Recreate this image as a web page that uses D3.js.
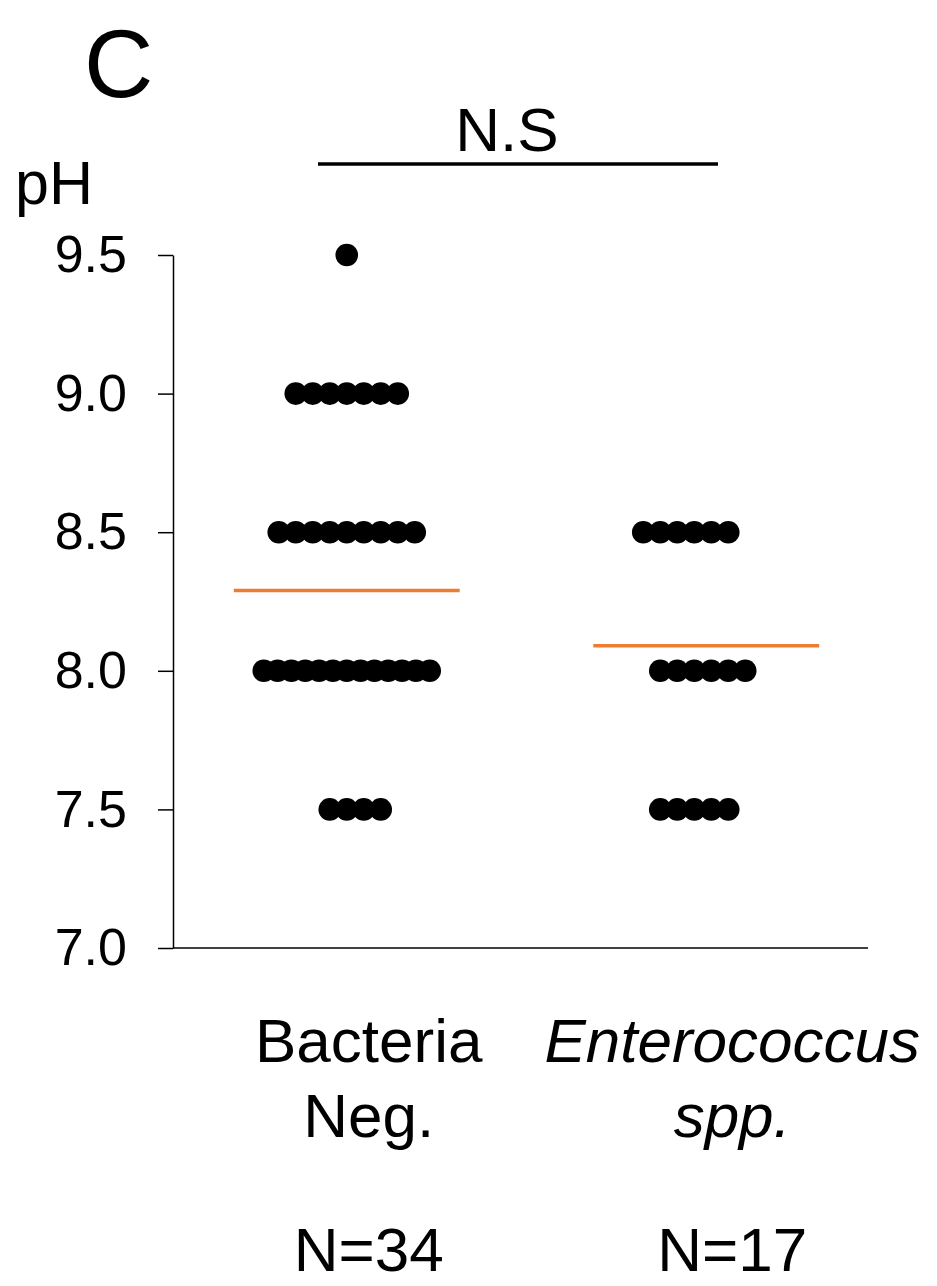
<!DOCTYPE html>
<html>
<head>
<meta charset="utf-8">
<script src="https://cdn.jsdelivr.net/npm/d3@7"></script>
<style>
  body { margin: 0; background: #fff; }
  text { font-family: "Liberation Sans", Arial, sans-serif; fill: #000; }
</style>
</head>
<body>
<svg></svg>
<script>
// data
var categories = ["Bacteria Neg.", "Enterococcus spp."];
var labelLine1 = ["Bacteria", "Enterococcus"];
var labelLine2 = ["Neg.", "spp."];
var nLabels = ["N=34", "N=17"];
var phLevels = [9.5, 9.0, 8.5, 8.0, 7.5];
var bacteriaCounts = [1, 7, 9, 13, 4];
var enteroCounts = [0, 0, 6, 6, 5];
// slot of the first dot in each row (rows are not all centred the same way)
var bacteriaFirstSlot = [0, -3, -4, -6, -1];
var enteroFirstSlot = [0, 0, -3, -2, -2];
var means = [8.29, 8.09];
var yTicks = [7.0, 7.5, 8.0, 8.5, 9.0, 9.5];
var sigLabel = "N.S";

var svgWidth = 937;
var svgHeight = 1286;

var plotLeft = 173;
var plotRight = 868;
var plotTop = 255;
var plotBottom = 948;

var dotRadius = 11.3;
var dotStep = 17;
var rowMaxSpan = 166;

var svg = d3.select("svg")
    .attr("width", svgWidth)
    .attr("height", svgHeight);

var x = d3.scaleBand()
    .domain(categories)
    .range([plotLeft, plotRight]);

var y = d3.scaleLinear()
    .domain([7.0, 9.5])
    .range([plotBottom, plotTop]);

// y axis
var yAxis = svg.append("g")
    .attr("transform", "translate(" + plotLeft + ",0)")
    .call(d3.axisLeft(y)
        .tickValues(yTicks)
        .tickFormat(d3.format(".1f"))
        .tickSize(15)
        .tickSizeOuter(0)
        .tickPadding(31));

yAxis.selectAll("path, line")
    .attr("stroke", "#000")
    .attr("stroke-width", 1.5);
yAxis.selectAll("text")
    .style("font-family", "'Liberation Sans', Arial, sans-serif")
    .style("font-size", "52px")
    .attr("fill", "#000");

// x axis line
svg.append("line")
    .attr("x1", plotLeft)
    .attr("x2", plotRight)
    .attr("y1", y(7.0))
    .attr("y2", y(7.0))
    .attr("stroke", "#000")
    .attr("stroke-width", 1.5);

// build dots
function rowDots(cat, counts, firstSlot) {
    var out = [];
    counts.forEach(function (n, i) {
        if (n == 0) return;
        var step = n > 1 ? Math.min(dotStep, rowMaxSpan / (n - 1)) : 0;
        for (var k = 0; k < n; k++) {
            out.push({ cat: cat, value: phLevels[i], slot: firstSlot[i] + k, step: step });
        }
    });
    return out;
}

var dots = rowDots(categories[0], bacteriaCounts, bacteriaFirstSlot)
    .concat(rowDots(categories[1], enteroCounts, enteroFirstSlot));

svg.append("g")
    .selectAll("circle")
    .data(dots)
    .join("circle")
    .attr("cx", function (d) { return x(d.cat) + x.bandwidth() / 2 + d.slot * d.step; })
    .attr("cy", function (d) { return y(d.value); })
    .attr("r", dotRadius)
    .attr("fill", "#000");

// mean lines
var meanShift = [0, 12];
var meanHalf = x.bandwidth() * 0.325;
svg.append("g")
    .selectAll("line")
    .data(means)
    .join("line")
    .attr("x1", function (d, i) { return x(categories[i]) + x.bandwidth() / 2 + meanShift[i] - meanHalf; })
    .attr("x2", function (d, i) { return x(categories[i]) + x.bandwidth() / 2 + meanShift[i] + meanHalf; })
    .attr("y1", function (d) { return y(d); })
    .attr("y2", function (d) { return y(d); })
    .attr("stroke", "#ED7D31")
    .attr("stroke-width", 3.5);

// category labels
var labelShift = [22, 38];
var labels = svg.append("g");
categories.forEach(function (c, i) {
    var cx = x(c) + x.bandwidth() / 2 + labelShift[i];
    var style = i == 1 ? "italic" : "normal";
    labels.append("text")
        .attr("x", cx).attr("y", 1062)
        .attr("text-anchor", "middle")
        .style("font-size", "62px")
        .style("font-style", style)
        .text(labelLine1[i]);
    labels.append("text")
        .attr("x", cx).attr("y", 1137)
        .attr("text-anchor", "middle")
        .style("font-size", "62px")
        .style("font-style", style)
        .text(labelLine2[i]);
    labels.append("text")
        .attr("x", cx).attr("y", 1271)
        .attr("text-anchor", "middle")
        .style("font-size", "62px")
        .text(nLabels[i]);
});

// significance bar
svg.append("line")
    .attr("x1", 318)
    .attr("x2", 718)
    .attr("y1", 164)
    .attr("y2", 164)
    .attr("stroke", "#000")
    .attr("stroke-width", 3.5);

svg.append("text")
    .attr("x", 507)
    .attr("y", 151)
    .attr("text-anchor", "middle")
    .style("font-size", "62px")
    .text(sigLabel);

// axis title and panel letter
svg.append("text")
    .attr("x", 15)
    .attr("y", 204)
    .style("font-size", "61px")
    .text("pH");

svg.append("text")
    .attr("x", 84)
    .attr("y", 97)
    .style("font-size", "96px")
    .text("C");
</script>
</body>
</html>
